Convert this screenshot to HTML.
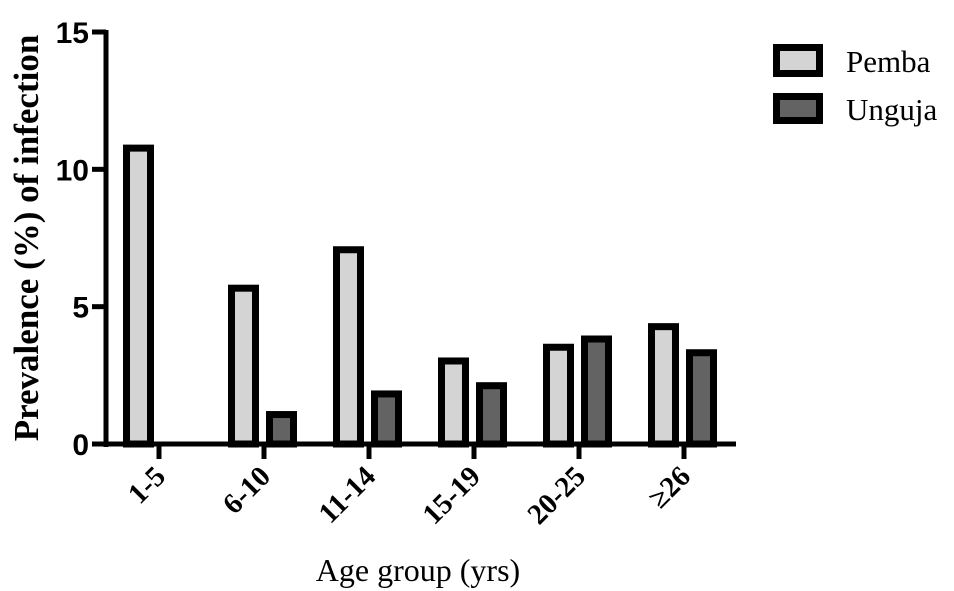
<!DOCTYPE html>
<html><head><meta charset="utf-8"><style>
body{margin:0;background:#fff}
svg{display:block}
</style></head><body>
<svg width="954" height="591" viewBox="0 0 954 591" id="chart">
<g id="plot"></g>
<text x="0" y="0" transform="translate(38,238) rotate(-90)" text-anchor="middle" font-family="Liberation Serif, serif" font-weight="bold" font-size="35">Prevalence (%) of infection</text>
<text x="418" y="581" text-anchor="middle" font-family="Liberation Serif, serif" font-size="32">Age group (yrs)</text>
<g>
<g>
<rect x="776.5" y="47.5" width="43" height="26" fill="#d4d4d4" stroke="#000" stroke-width="7"/>
<text x="846" y="72" font-family="Liberation Serif, serif" font-size="31">Pemba</text>
</g>
<g>
<rect x="776.5" y="96.5" width="43" height="24" fill="#636363" stroke="#000" stroke-width="7"/>
<text x="846" y="120" font-family="Liberation Serif, serif" font-size="31">Unguja</text>
</g>
</g>
</svg>
<script>
const categories = ["1-5","6-10","11-14","15-19","20-25","\u226526"];
const pemba = [10.9, 5.8, 7.2, 3.15, 3.65, 4.4];
const unguja = [0, 1.2, 1.95, 2.25, 3.95, 3.45];
const yTicks = [0, 5, 10, 15];

const NS = "http://www.w3.org/2000/svg";
const g = document.getElementById("plot");
const y0 = 444, y15 = 32;
function yScale(v){ return y0 - (v/15)*(y0 - y15); }
function xCenter(i){ return 159 + 105*i; }
function mk(tag, attrs){ const e=document.createElementNS(NS,tag); for(const k in attrs) e.setAttribute(k, attrs[k]); g.appendChild(e); return e; }

function bar(i, v, isP){
  const c = xCenter(i);
  const left = isP ? c-36 : c+2;
  if (v <= 0) return;
  const top = yScale(v);
  const r = mk("rect",{x:left+3.5, y:top+3.5, width:24, height:Math.max(0,y0-top-3.5), fill:isP?"#d4d4d4":"#636363", stroke:"#000","stroke-width":7});
  
  
}
for (let i=0;i<categories.length;i++){ bar(i,pemba[i],true); bar(i,unguja[i],false); }

const ya = mk("line",{x1:106,y1:yScale(15)-2,x2:106,y2:y0+3,stroke:"#000","stroke-width":5});


const xa = mk("line",{x1:104,y1:y0,x2:736,y2:y0,stroke:"#000","stroke-width":5});



yTicks.forEach(t=>{
  const y=yScale(t);
  const tk=mk("line",{x1:92,y1:y,x2:106,y2:y,stroke:"#000","stroke-width":5});
  
  
  const tx=mk("text",{x:89,y:y+11,"text-anchor":"end","font-family":"Liberation Sans, sans-serif","font-weight":"bold","font-size":30});
  tx.textContent=t;
  
  
});
categories.forEach((c,i)=>{
  const x=xCenter(i);
  const tk=mk("line",{x1:x,y1:y0,x2:x,y2:y0+15,stroke:"#000","stroke-width":5});
  
  
  const tx=mk("text",{x:0,y:0,"text-anchor":"end",transform:`translate(${x+8},${y0+34}) rotate(-45)`,"font-family":"Liberation Serif, serif","font-weight":"bold","font-size":29});
  tx.textContent=c;
  
  
});
</script>
</body></html>
